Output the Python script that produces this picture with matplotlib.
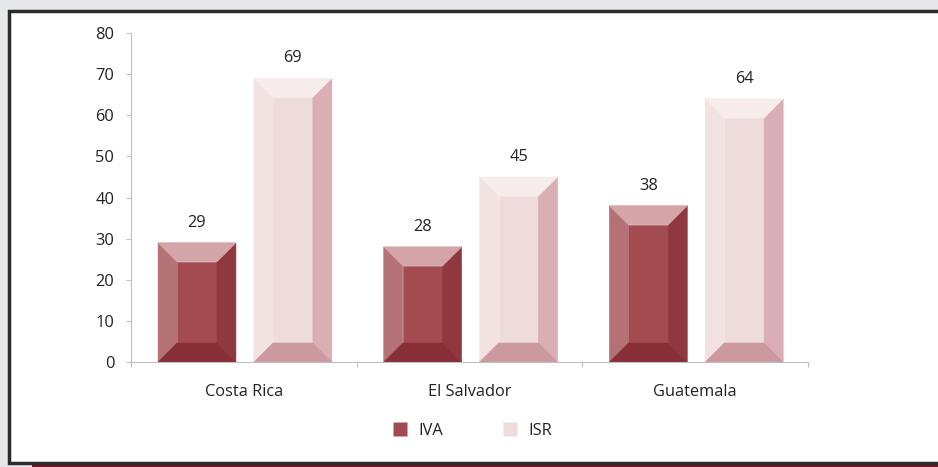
import matplotlib.pyplot as plt
from matplotlib.patches import Polygon, Rectangle
from matplotlib.lines import Line2D

# Datos del gráfico
paises = ['Costa Rica', 'El Salvador', 'Guatemala']
iva = [29, 28, 38]
isr = [69, 45, 64]
series = ['IVA', 'ISR']

# Colores de las caras del bisel: izquierda, centro, derecha, arriba, abajo
caras_iva = ['#b47276', '#a44b52', '#8f3840', '#d3a5a8', '#872e37']
caras_isr = ['#f3e2e2', '#eedbdb', '#d9afb5', '#f7ecec', '#cd99a1']

plt.rcParams['font.family'] = ['Open Sans', 'DejaVu Sans']
tam = 11.8

fig = plt.figure(figsize=(9.38, 4.67), dpi=100)
fig.patch.set_facecolor('#e6e7e9')

# Marco blanco con borde oscuro y franja granate inferior
fig.patches.append(Rectangle((32 / 938, 0), 1, 4 / 467, transform=fig.transFigure,
                             facecolor='#7a1028', edgecolor='none', zorder=-3))
fig.patches.append(Rectangle((9 / 938, 4 / 467), 1, 452 / 467, transform=fig.transFigure,
                             facecolor='white', edgecolor='#2b2b2d', linewidth=2.5, zorder=-2))

ax = fig.add_axes([131 / 938, 105 / 467, 677 / 938, 329 / 467])
ax.set_facecolor('none')
ax.set_xlim(0, 3)
ax.set_ylim(0, 80)

ancho = 0.345
hueco = 0.08
margen = 0.12
bisel_px = 19

# Conversión del bisel de píxeles a unidades de datos
p0 = ax.transData.inverted().transform((0, 0))
p1 = ax.transData.inverted().transform((bisel_px, bisel_px))
bdx = p1[0] - p0[0]
bdy = p1[1] - p0[1]


def cara(puntos, color):
    ax.add_patch(Polygon(puntos, closed=True, facecolor=color, edgecolor=color,
                         linewidth=0.4))


def barra_biselada(x0, w, h, caras):
    x1 = x0 + w
    b = min(bdy, h / 2)
    izq, centro, der, arriba, abajo = caras
    xi0, xi1 = x0 + bdx, x1 - bdx
    cara([(xi0, b), (xi1, b), (xi1, h - b), (xi0, h - b)], centro)
    cara([(x0, 0), (xi0, b), (xi0, h - b), (x0, h)], izq)
    cara([(x1, 0), (xi1, b), (xi1, h - b), (x1, h)], der)
    cara([(x0, h), (xi0, h - b), (xi1, h - b), (x1, h)], arriba)
    cara([(x0, 0), (xi0, b), (xi1, b), (x1, 0)], abajo)


for i in range(len(paises)):
    for j, (vals, caras) in enumerate([(iva, caras_iva), (isr, caras_isr)]):
        x0 = i + margen + j * (ancho + hueco)
        barra_biselada(x0, ancho, vals[i], caras)
        ax.annotate(str(vals[i]), (x0 + ancho / 2, vals[i]), xytext=(0, 8.5),
                    textcoords='offset points', ha='center', va='bottom',
                    fontsize=tam, color='#222222')

# Ejes
for s in ['top', 'right']:
    ax.spines[s].set_visible(False)
ax.spines['left'].set_color('#c0c0c0')
ax.spines['bottom'].set_color('#c0c0c0')
ax.spines['bottom'].set_zorder(3)
ax.set_yticks(range(0, 81, 10))
ax.tick_params(axis='y', colors='#c0c0c0', labelcolor='#222222', labelsize=tam,
               length=3.5, pad=8.5)
ax.set_xticks([0, 1, 2, 3])
ax.set_xticklabels([])
ax.tick_params(axis='x', colors='#c0c0c0', length=3.5)
ax.set_xticks([0.5, 1.5, 2.5], minor=True)
ax.set_xticklabels(paises, minor=True)
ax.tick_params(axis='x', which='minor', length=0, labelsize=tam,
               labelcolor='#222222', pad=16)

# Leyenda
manejadores = [Line2D([], [], marker='s', linestyle='none', markersize=9.5,
                      markerfacecolor=caras_iva[1], markeredgecolor='none'),
               Line2D([], [], marker='s', linestyle='none', markersize=9.5,
                      markerfacecolor=caras_isr[1], markeredgecolor='none')]
fig.legend(manejadores, series, loc='center', bbox_to_anchor=(468 / 938, 1 - 431 / 467),
           ncol=2, frameon=False, fontsize=tam, columnspacing=3.1, handletextpad=0.1,
           labelcolor='#222222')

fig.savefig('out.png', dpi=100, facecolor=fig.get_facecolor())
